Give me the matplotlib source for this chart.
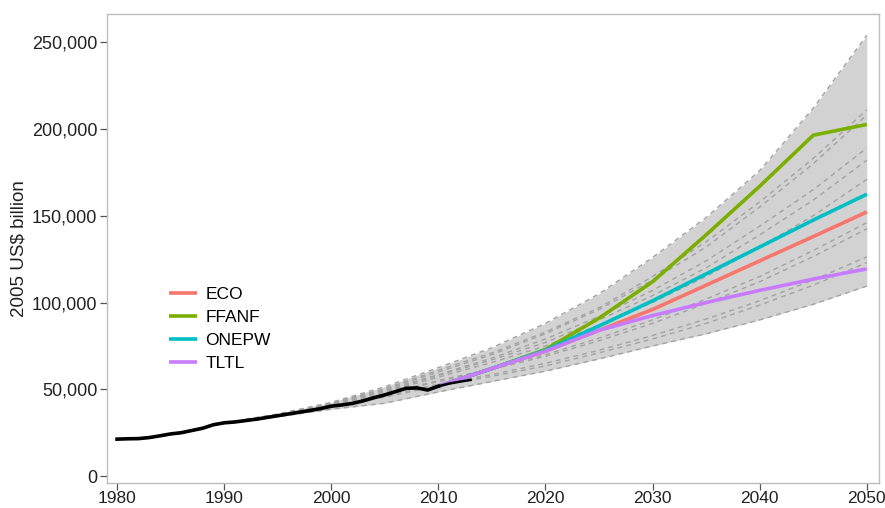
import matplotlib
matplotlib.use("Agg")
import matplotlib.pyplot as plt
from matplotlib.ticker import FuncFormatter
import numpy as np

plt.rcParams['font.family'] = ['Liberation Sans', 'DejaVu Sans']

# Historical GDP (2005 US$ billion)
hist_years = list(range(1980, 2011))
hist_vals = [21300, 21500, 21600, 22200, 23200, 24300, 25000, 26300, 27600, 29600,
             30700, 31200, 32000, 32800, 33800, 34800, 35800, 36800, 37800, 38900,
             40300, 41000, 41900, 43400, 45200, 46800, 48700, 50600, 50800, 49600, 51800]
hist2_years = [2010, 2011, 2012, 2013]
hist2_vals = [51800, 53300, 54400, 55400]

# Scenario projections
scen_years = [2010, 2015, 2020, 2025, 2030, 2035, 2040, 2045, 2050]
scenarios = {
    "ECO":   [51800, 62000, 72000, 84000, 96000, 110000, 124000, 138000, 152200],
    "FFANF": [51800, 62000, 73000, 91000, 112000, 139000, 167000, 196400, 202600],
    "ONEPW": [51800, 62000, 72500, 86500, 101000, 116500, 132000, 147500, 162400],
    "TLTL":  [51800, 62000, 72000, 84000, 92500, 100000, 107000, 113500, 119400],
}
scen_colors = {"ECO": "#F8766D", "FFANF": "#7CAE00", "ONEPW": "#00BFC4", "TLTL": "#C77CFF"}

# Other model projections (dashed grey), thousand 2005 US$ billion
proj_years = [1992, 1995, 2000, 2005, 2010, 2015, 2020, 2025, 2030, 2035, 2040, 2045, 2050]
proj_lines = [
    [32.8, 35.8, 42.5, 51.5, 62.5, 74.0, 88.0, 105.0, 126.0, 149.0, 176.0, 212.0, 254.0],
    [32.6, 35.5, 42.0, 50.5, 61.0, 71.0, 83.0, 97.0, 115.0, 135.0, 158.0, 183.0, 211.0],
    [32.5, 35.4, 41.8, 50.0, 60.0, 70.0, 82.0, 96.0, 113.0, 132.0, 155.0, 180.0, 208.0],
    [32.4, 35.3, 41.5, 49.5, 58.5, 68.0, 79.0, 92.0, 107.0, 124.0, 144.0, 165.0, 189.0],
    [32.3, 35.2, 41.3, 49.0, 58.0, 67.0, 77.0, 90.0, 104.0, 120.0, 139.0, 159.0, 182.0],
    [32.2, 35.1, 41.0, 48.5, 57.0, 65.5, 75.0, 87.0, 100.0, 115.0, 132.0, 150.0, 171.0],
    [32.1, 35.0, 40.6, 47.5, 55.0, 62.0, 70.0, 79.5, 90.0, 102.0, 115.0, 130.0, 146.0],
    [32.0, 34.9, 40.4, 47.0, 54.5, 61.5, 69.0, 78.0, 88.0, 99.5, 112.0, 126.5, 142.5],
    [31.9, 34.8, 40.0, 46.0, 53.0, 58.5, 65.0, 72.5, 81.0, 90.5, 101.0, 113.0, 126.3],
    [31.8, 34.7, 39.7, 45.5, 52.0, 57.5, 63.5, 71.0, 79.0, 88.0, 98.5, 110.0, 123.0],
    [31.5, 34.2, 38.5, 42.0, 48.5, 54.5, 60.5, 67.5, 75.0, 82.0, 90.0, 99.0, 109.5],
]

yticks = [0, 50000, 100000, 150000, 200000, 250000]
xticks = [1980, 1990, 2000, 2010, 2020, 2030, 2040, 2050]

fig = plt.figure(figsize=(8.85, 5.08), dpi=100)
ax = fig.add_axes([0.121, 0.049, 0.872, 0.923])

proj = np.array(proj_lines, dtype=float) * 1000
ax.fill_between(proj_years, proj.min(axis=0), proj.max(axis=0), color="#d2d2d2", lw=0, zorder=1)
for row in proj:
    ax.plot(proj_years, row, color="#a3a3a3", lw=1.0, ls=(0, (3.5, 3)), zorder=2)

for name, vals in scenarios.items():
    ax.plot(scen_years, vals, color=scen_colors[name], lw=2.6, label=name, zorder=3,
            solid_capstyle="butt")

ax.plot(hist_years, hist_vals, color="black", lw=2.6, zorder=4)
ax.plot(hist2_years, hist2_vals, color="black", lw=1.8, zorder=4)

ax.set_xlim(1979.07, 2051.12)
ax.set_ylim(-4030, 266100)
ax.set_xticks(xticks)
ax.set_yticks(yticks)
ax.yaxis.set_major_formatter(FuncFormatter(lambda v, p: f"{int(v):,}"))
ax.tick_params(axis="y", labelsize=13, length=5, width=0.9, color="#555555",
               labelcolor="#222222", pad=2)
ax.tick_params(axis="x", labelsize=12.5, length=5, width=0.9, color="#555555",
               labelcolor="#222222", pad=0.5)
for s in ax.spines.values():
    s.set_color("#bdbdbd")
    s.set_linewidth(1.0)
ax.set_ylabel("2005 US$ billion", fontsize=13.5, color="#222222")
ax.yaxis.set_label_coords(-0.1036, 0.5)

leg = ax.legend(loc="upper left", bbox_to_anchor=(0.071, 0.433), frameon=False,
                fontsize=12.5, handlelength=1.6, handletextpad=0.5, labelspacing=0.45,
                borderaxespad=0)

fig.savefig("out.png", dpi=100)
